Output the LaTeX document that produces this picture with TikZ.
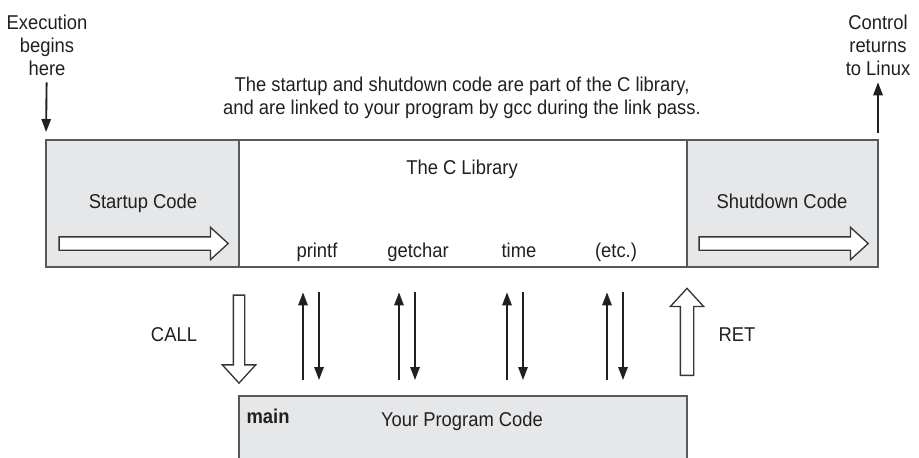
\documentclass[tikz,border=0pt]{standalone}
\usepackage{fontspec}
\setmainfont{Liberation Sans}[FakeStretch=0.92]
\usetikzlibrary{positioning,arrows.meta,shapes.arrows}
\definecolor{boxgray}{RGB}{230,231,232}
\definecolor{edgegray}{RGB}{88,89,91}
\definecolor{inkgray}{RGB}{35,31,32}

\begin{document}
\begin{tikzpicture}[x=0.75pt, y=-0.75pt, node distance=0pt, inkgray,
    every node/.style={font=\fontsize{15}{17.25}\selectfont, text=inkgray}]
  % Styles
  \tikzstyle{codebox} = [rectangle, draw=edgegray, line width=1.1pt, fill=boxgray, outer sep=0pt, minimum height=95.25pt]
  \tikzstyle{libbox} = [rectangle, draw=edgegray, line width=1.1pt, fill=white, outer sep=0pt, minimum height=95.25pt, minimum width=336pt]
  \tikzstyle{hollow} = [single arrow, draw=inkgray!90, line width=1pt, fill=white, inner xsep=0pt, inner ysep=4.5pt, outer sep=0pt, single arrow tip angle=85, single arrow head indent=0pt, single arrow head extend=7.1pt]
  \tikzstyle{label} = [inner sep=1pt, anchor=base]
  \tikzstyle{stack} = [inner sep=1pt, align=center]
  \tikzstyle{arrow} = [draw, line width=1.4pt, -{Triangle[length=9.75pt, width=7pt]}]

  \useasboundingbox (0,0) rectangle (919,457);

  % Nodes
  \node[codebox, minimum width=144.75pt] (startup) at (142.5,203.5) {};
  \node[libbox, right=of startup] (library) {};
  \node[codebox, minimum width=143.25pt, right=of library] (shutdown) {};
  \node[codebox, minimum width=336pt, minimum height=60pt] (main) at (463,436) {};

  \node[label] (startlbl) at (143,208) {Startup Code};
  \node[label] (shutlbl) at (782,208) {Shutdown Code};
  \node[label] (liblbl) at (462,174) {The C Library};
  \node[label] (printf) at (317,257) {printf};
  \node[label] (getchar) at (418,257) {getchar};
  \node[label] (time) at (519,257) {time};
  \node[label] (etc) at (616,257) {(etc.)};
  \node[label, anchor=base west, font=\fontsize{15}{17.25}\selectfont\bfseries] (mainlbl) at (245,423) {main};
  \node[label] (proglbl) at (462,426) {Your Program Code};

  \node[stack] (note) at (462,98) {The startup and shutdown code are part of the C library,\\and are linked to your program by gcc during the link pass.};
  \node[stack] (execlbl) at (47,45) {Execution\\begins\\here};
  \node[stack] (ctrllbl) at (878,45) {Control\\returns\\to Linux};
  \node[label] (calllbl) at (174,341) {CALL};
  \node[label] (retlbl) at (737,341) {RET};

  \node[hollow, minimum height=126.75pt] (startarrow) at (140,243.5) {};
  \node[hollow, minimum height=126.75pt] (shutarrow) at (780,243.5) {};
  \node[hollow, rotate=-90, minimum height=66pt, inner ysep=3.75pt, single arrow head extend=8.25pt] (callarrow) at (239,336) {};
  \node[hollow, rotate=90, minimum height=65.25pt, single arrow head extend=7.5pt] (retarrow) at (687,335.5) {};

  % Edges
  \path[arrow, shorten <=4pt, shorten >=6pt] (execlbl) -- (startup.north west);
  \path[arrow, shorten <=5pt, shorten >=4pt] (shutdown.north east) -- (ctrllbl);

  \path[arrow, shorten <=12pt, shorten >=19pt] (main.north -| 303,0) -- (library.south -| 303,0);
  \path[arrow, shorten <=19pt, shorten >=12pt] (library.south -| 319,0) -- (main.north -| 319,0);
  \path[arrow, shorten <=12pt, shorten >=19pt] (main.north -| 399,0) -- (library.south -| 399,0);
  \path[arrow, shorten <=19pt, shorten >=12pt] (library.south -| 415,0) -- (main.north -| 415,0);
  \path[arrow, shorten <=12pt, shorten >=19pt] (main.north -| 507,0) -- (library.south -| 507,0);
  \path[arrow, shorten <=19pt, shorten >=12pt] (library.south -| 523,0) -- (main.north -| 523,0);
  \path[arrow, shorten <=12pt, shorten >=19pt] (main.north -| 607,0) -- (library.south -| 607,0);
  \path[arrow, shorten <=19pt, shorten >=12pt] (library.south -| 623,0) -- (main.north -| 623,0);

\end{tikzpicture}
\end{document}
